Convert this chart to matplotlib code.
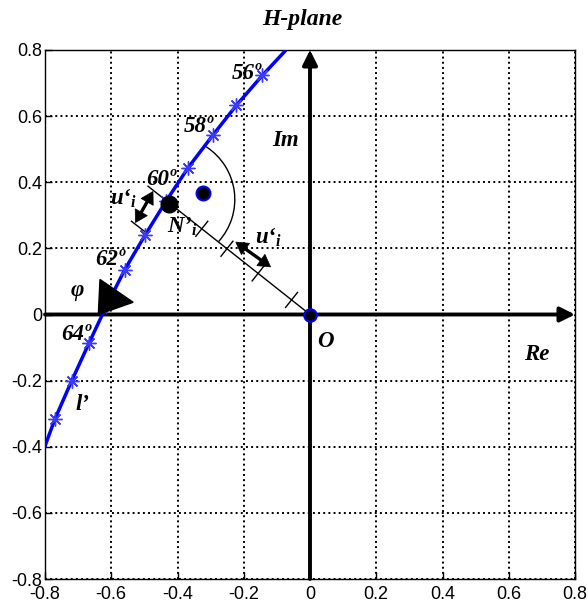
import matplotlib
matplotlib.use("Agg")
import matplotlib.pyplot as plt
import matplotlib.patches as mpatches
from matplotlib.ticker import FuncFormatter
import numpy as np

plt.rcParams["font.family"] = ["Liberation Sans", "DejaVu Sans"]
plt.rcParams["mathtext.fontset"] = "custom"
plt.rcParams["mathtext.it"] = "Liberation Serif:bold:italic"
plt.rcParams["mathtext.rm"] = "Liberation Serif:bold:italic"

# curve l' (one marker per degree)
curve_x = [-0.800, -0.770, -0.720, -0.667, -0.615, -0.559, -0.498, -0.435,
           -0.368, -0.292, -0.222, -0.144, -0.076]
curve_y = [-0.398, -0.316, -0.202, -0.086, 0.025, 0.136, 0.240, 0.342,
           0.444, 0.544, 0.633, 0.723, 0.796]
marker_idx = list(range(1, 12))

deg_labels = ["56º", "58º", "60º", "62º", "64º"]
deg_x = [-0.192, -0.335, -0.450, -0.604, -0.705]
deg_y = [0.730, 0.570, 0.408, 0.166, -0.060]

origin = (0.0, 0.0)
n_point = (-0.425, 0.333)       # N'_i
blue_point = (-0.324, 0.366)
ray_end = (-0.489, 0.388)
ray_ticks = [0.071, 0.200, 0.320, 0.417]   # distances along ray
arc_center = (-0.417, 0.348)
arc_radius = 0.19
arc_angles = (-42, 57)

tri_x = [-0.634, -0.534, -0.639]
tri_y = [0.106, 0.037, 0.000]

par_seg = [(-0.539, 0.282), (-0.494, 0.247)]
arrow_left = [(-0.474, 0.372), (-0.527, 0.278)]
arrow_right = [(-0.224, 0.219), (-0.119, 0.144)]

ticks = np.round(np.arange(-0.8, 0.81, 0.2), 1)

fig = plt.figure(figsize=(5.88, 6.07), dpi=100)
ax = fig.add_axes([45 / 588, 28 / 607, 530 / 588, 529 / 607])
ax.set_xlim(-0.8, 0.8)
ax.set_ylim(-0.8, 0.8)
ax.set_xticks(ticks)
ax.set_yticks(ticks)
fmt = FuncFormatter(lambda v, p: "0" if abs(v) < 1e-9 else f"{v:g}")
ax.xaxis.set_major_formatter(fmt)
ax.yaxis.set_major_formatter(fmt)
ax.tick_params(direction="in", length=5, labelsize=13, colors="k", width=1,
               top=False, right=False)
ax.tick_params(axis="x", pad=5)
ax.tick_params(axis="y", pad=2)
ax.grid(True, color="k", ls=":", lw=1.4)
for s in ax.spines.values():
    s.set_linewidth(1.0)

# Re / Im axes with arrows
ax.annotate("", xy=(0.8, 0), xytext=(-0.8, 0), annotation_clip=False,
            arrowprops=dict(arrowstyle="-|>", lw=2.8, color="k",
                            mutation_scale=22, shrinkA=0, shrinkB=0))
ax.annotate("", xy=(0, 0.8), xytext=(0, -0.8), annotation_clip=False,
            arrowprops=dict(arrowstyle="-|>", lw=2.8, color="k",
                            mutation_scale=22, shrinkA=0, shrinkB=0))

# ray O -> N'_i with ticks
ax.plot([origin[0], ray_end[0]], [origin[1], ray_end[1]], color="k", lw=1, zorder=3)
ux, uy = np.array(ray_end) / np.hypot(*ray_end)
nx, ny = -uy, ux
h = 0.029
for d in ray_ticks:
    cx, cy = d * ux, d * uy
    ax.plot([cx - h * nx, cx + h * nx], [cy - h * ny, cy + h * ny], color="k", lw=1, zorder=3)
ax.plot([p[0] for p in par_seg], [p[1] for p in par_seg], color="k", lw=1, zorder=3)

# arc
ax.add_patch(mpatches.Arc(arc_center, 2 * arc_radius, 2 * arc_radius,
                          theta1=arc_angles[0], theta2=arc_angles[1],
                          color="k", lw=1, zorder=3))


def double_arrow(a, b, hl=0.036, hw=0.021):
    a, b = np.array(a), np.array(b)
    d = (b - a) / np.hypot(*(b - a))
    p = np.array([-d[1], d[0]])
    ax.plot([a[0] + d[0] * hl * 0.8, b[0] - d[0] * hl * 0.8],
            [a[1] + d[1] * hl * 0.8, b[1] - d[1] * hl * 0.8],
            color="k", lw=2.4, solid_capstyle="butt", zorder=6)
    for tip, s in ((a, 1), (b, -1)):
        base = tip + s * d * hl
        ax.add_patch(mpatches.Polygon([tip, base + p * hw, base - p * hw],
                                      closed=True, fc="k", ec="k", lw=0.5, zorder=6))


for a, b in (arrow_left, arrow_right):
    double_arrow(a, b)

# curve l'
ax.plot(curve_x, curve_y, color="#0000ff", lw=2.5, zorder=4)
ax.plot([curve_x[i] for i in marker_idx], [curve_y[i] for i in marker_idx],
        ls="none", marker=(8, 2, 0), ms=10, mec="#3a3aff", mew=1, zorder=5)

# triangle phi
ax.add_patch(mpatches.Polygon(list(zip(tri_x, tri_y)), closed=True,
                              facecolor="k", edgecolor="k", zorder=6))

# points
ax.plot(*origin, "o", ms=9, mfc="k", mec="#0000ff", mew=1.5, zorder=7)
ax.plot(*blue_point, "o", ms=10, mfc="k", mec="#0000ff", mew=1.5, zorder=7)
ax.plot(*n_point, "o", ms=12, mfc="k", mec="k", zorder=7)

lab = dict(family=["Liberation Serif", "DejaVu Serif"], weight="bold",
           style="italic", fontsize=16.5, ha="center", va="center", zorder=8)
for t, x, y in zip(deg_labels, deg_x, deg_y):
    ax.text(x, y, t, **lab)
ax.text(-0.073, 0.525, "Im", **lab)
ax.text(0.684, -0.122, "Re", **lab)
ax.text(0.047, -0.082, "O", **lab)
ax.text(-0.702, 0.074, "φ", **lab)
ax.text(-0.687, -0.271, "l’", **lab)
ax.text(-0.562, 0.352, "u‘$_i$", **lab)
ax.text(-0.125, 0.232, "u‘$_i$", **lab)
ax.text(-0.385, 0.264, "N’$_i$", **lab)

fig.text(302 / 588, 1 - 20 / 607, "H-plane", family=["Liberation Serif"],
         weight="bold", style="italic", fontsize=17, ha="center", va="center")

fig.savefig("out.png", dpi=100)
